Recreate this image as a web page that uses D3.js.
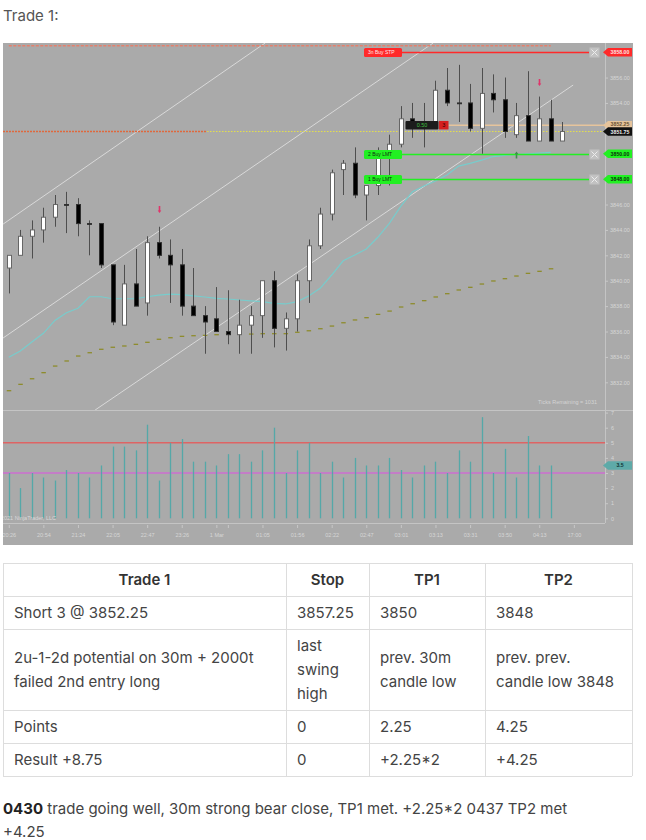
<!DOCTYPE html>
<html>
<head>
<meta charset="utf-8">
<script src="https://cdn.jsdelivr.net/npm/d3@7"></script>
<style>
body{margin:0;background:#fff;}
svg{display:block;font-family:Inter,"Noto Sans",sans-serif;}
</style>
</head>
<body>
<svg id="page" width="646" height="840"></svg>
<script>

// ---- candles (one per 2000 tick bar) ----
var opens  = [3841,3842,3843.5,3844,3845,3846,3846,3844.5,3844.5,3841.25,3836.5,3839.75,3838.25,3843,3842,3841.25,3838,3837.25,3837,3836,3835.75,3836.5,3837.25,3840,3836.25,3837,3840,3842.75,3845.25,3848.75,3849.25,3846.75,3847.5,3849.75,3850.75,3852.75,3852.5,3852.5,3855,3854,3854,3852,3854.75,3854.25,3851.5,3853,3851,3852.75,3851]
var highs  = [3842,3844,3844.75,3845.75,3846.75,3847,3846.5,3844.75,3844.5,3841.25,3841.25,3842.5,3843.5,3844.25,3843.25,3842.5,3841,3838,3839.5,3839.25,3838.5,3838,3840,3840.75,3837.5,3840.5,3843.25,3845.75,3848.75,3849.5,3850.5,3847.5,3850.5,3851.5,3853.75,3854,3854,3855.75,3856.75,3857,3855.5,3856.75,3856.25,3856,3854,3856.5,3854.5,3854.25,3852.5]
var lows   = [3839,3842,3841.75,3843,3844.25,3843.75,3843.5,3842,3841,3836.5,3836.5,3838,3837.25,3841.75,3838.25,3837.25,3837.25,3834.25,3836,3835,3834.25,3834.25,3835.5,3834.75,3834.5,3836,3838.25,3842.5,3844.75,3846.75,3846.5,3844.75,3846.75,3847.5,3850.5,3851.25,3850.5,3852.25,3853.75,3852.5,3851.75,3850,3853.25,3851.25,3851.25,3851,3851,3851,3851]
var closes = [3842,3843.5,3844,3845,3846,3846,3844.5,3844.5,3841.25,3836.75,3839.75,3838,3843,3842,3841.25,3838,3837.25,3836.75,3836,3835.75,3836.5,3837.25,3840,3836.25,3837,3840,3842.75,3845.25,3848.5,3849.25,3846.75,3847.5,3849.75,3850.75,3852.75,3852.5,3852.25,3855,3854,3854,3852,3854.75,3854.25,3851.75,3853,3851,3852.75,3851,3851.75]

// ---- indicators ----
var fastMA = [3833.97,3834.46,3835.17,3835.86,3836.87,3837.48,3837.83,3838.74,3838.74,3838.58,3838.58,3838.58,3838.74,3838.87,3838.95,3838.9,3838.8,3838.72,3838.61,3838.56,3838.48,3838.42,3838.35,3838.22,3838.17,3838.35,3838.8,3839.4,3840.45,3841.57,3842.02,3842.5,3843.42,3844.52,3845.88,3847,3847.46,3847.85,3848.32,3849.03,3849.24,3849.5,3849.78,3849.87,3849.94,3850,3850.05,3850.1]
var slowMA = [3831.34,3831.84,3832.28,3832.76,3833.28,3833.68,3834.07,3834.33,3834.6,3834.76,3834.86,3834.99,3835.15,3835.39,3835.51,3835.62,3835.67,3835.7,3835.75,3835.83,3835.78,3835.8,3835.83,3835.83,3835.83,3835.94,3836.06,3836.22,3836.43,3836.69,3836.91,3837.09,3837.35,3837.61,3837.93,3838.19,3838.43,3838.72,3838.98,3839.27,3839.48,3839.74,3839.98,3840.16,3840.37,3840.58,3840.74,3840.94]
var volumes = [3,2,3,2.7,2.5,3.2,3,2.7,3.5,4.75,4.75,4.5,6.2,2.5,5,5.25,3.75,3.75,3.5,4.25,4.25,3.75,4.5,6,3,4.5,5,3,3.75,2.7,4,3.5,3.5,4,3.2,2.7,3.5,3.75,3,4.5,3.75,6.7,3,4.6,2.7,5.45,3.5,3.5]
var volHigh = 5, volLow = 3, volLast = 3.5

// ---- drawings on the chart ----
var chanFromIdx = [-0.49, -0.49, 7.49]
var chanFromPx  = [3844.46, 3835.49, 3829.82]
var chanToIdx   = [22.23, 36.8, 48.94]
var chanToPx    = [3858.72, 3858.72, 3855.41]

var levelPx      = [3858.5, 3851.75]
var levelFromIdx = [0, -0.5]
var levelToIdx   = [47, 17.2]

var downArrowIdx = [13, 46]
var downArrowPx  = [3845.6, 3855.6]
var upArrowIdx   = [44]
var upArrowPx    = [3849.9]

// ---- orders / position ----
var orderNames  = ["3n Buy STP", "2 Buy LMT", "1 Buy LMT"]
var orderPrices = [3858, 3850, 3848]
var orderKinds  = ["stop", "limit", "limit"]
var entryPrice = 3852.25, lastPrice = 3851.75
var posPnl = "0.50", posQty = "3"

// ---- axes ----
var priceTicks = d3.range(3832, 3859, 2)
var volTicks = d3.range(0, 8)
var timeIdx = [0,3,6,9,12,15,18,19,22,25,28,31,34,37,40,43,46,49]
var timeLbl = ["20:26","20:54","21:24","22:05","22:47","23:26","1 Mar","","01:05","01:56","02:22","02:47","03:01","03:13","03:31","03:50","04:13","17:00"]

// ---- table ----
var tableHead = ["Trade 1", "Stop", "TP1", "TP2"]
var tableRows = [
  [["Short 3 @ 3852.25"], ["3857.25"], ["3850"], ["3848"]],
  [["2u-1-2d potential on 30m + 2000t", "failed 2nd entry long"], ["last", "swing", "high"], ["prev. 30m", "candle low"], ["prev. prev.", "candle low 3848"]],
  [["Points"], ["0"], ["2.25"], ["4.25"]],
  [["Result +8.75"], ["0"], ["+2.25*2"], ["+4.25"]]
]


var svg = d3.select("#page")
var cL = 3, cR = 633, cT = 43, cB = 545, axX = 605
var pBot = 410, vBot = 523

var x  = d3.scaleLinear().domain([-0.5, 51.7]).range([cL, axX])
var y  = d3.scaleLinear().domain([3829.82, 3858.72]).range([pBot, cT])
var yv = d3.scaleLinear().domain([0, 7]).range([518.3, 412.6])
var smallFont = "'Liberation Sans',Arial,sans-serif"

svg.append("text").attr("x", 3).attr("y", 21).attr("font-size", 15).attr("fill", "#555").text("Trade 1:")

var defs = svg.append("defs")
defs.append("clipPath").attr("id", "clipP").append("rect")
  .attr("x", cL).attr("y", cT).attr("width", axX - cL).attr("height", pBot - cT)
defs.append("clipPath").attr("id", "clipV").append("rect")
  .attr("x", cL).attr("y", pBot).attr("width", axX - cL).attr("height", vBot - pBot)
defs.append("clipPath").attr("id", "clipAll").append("rect")
  .attr("x", cL).attr("y", cT).attr("width", cR - cL).attr("height", cB - cT)

var chart = svg.append("g").attr("clip-path", "url(#clipAll)")
chart.append("rect").attr("x", cL).attr("y", cT).attr("width", cR - cL).attr("height", cB - cT).attr("fill", "#aaaaaa")

// panel frame
chart.append("line").attr("x1", cL).attr("x2", cR).attr("y1", pBot + 0.5).attr("y2", pBot + 0.5).attr("stroke", "#c4c4c4")
chart.append("line").attr("x1", cL).attr("x2", axX).attr("y1", vBot + 0.5).attr("y2", vBot + 0.5).attr("stroke", "#c4c4c4")
chart.append("line").attr("x1", axX + 0.5).attr("x2", axX + 0.5).attr("y1", cT).attr("y2", vBot).attr("stroke", "#c4c4c4")

var gp = chart.append("g").attr("clip-path", "url(#clipP)")
var gv = chart.append("g").attr("clip-path", "url(#clipV)")

// channel lines
gp.selectAll(".chan").data(chanFromIdx).enter().append("line")
  .attr("x1", function(d){ return x(d) })
  .attr("y1", function(d, i){ return y(chanFromPx[i]) })
  .attr("x2", function(d, i){ return x(chanToIdx[i]) })
  .attr("y2", function(d, i){ return y(chanToPx[i]) })
  .attr("stroke", "#dedede").attr("stroke-width", 0.9)

// horizontal levels
gp.append("line").attr("x1", x(-0.5)).attr("x2", axX).attr("y1", y(lastPrice)).attr("y2", y(lastPrice))
  .attr("stroke", "#e4e04a").attr("stroke-width", 1).attr("stroke-dasharray", "1.5,1.5")
gp.selectAll(".lvl").data(levelPx).enter().append("line")
  .attr("x1", function(d, i){ return x(levelFromIdx[i]) })
  .attr("x2", function(d, i){ return x(levelToIdx[i]) })
  .attr("y1", function(d){ return y(d) }).attr("y2", function(d){ return y(d) })
  .attr("stroke", function(d, i){ return i == 0 ? "#e4806c" : "#e0683c" })
  .attr("stroke-width", 1.5)
  .attr("stroke-dasharray", function(d, i){ return i == 0 ? "3,1.5" : "2,1" })

// entry line
gp.append("line").attr("x1", x(34.4) + 43).attr("x2", axX).attr("y1", y(entryPrice)).attr("y2", y(entryPrice))
  .attr("stroke", "#e6c49c").attr("stroke-width", 1.5)

// slow MA (dashes)
gp.selectAll(".slow").data(slowMA).enter().append("line")
  .attr("x1", function(d, i){ return x(i) - 2 }).attr("x2", function(d, i){ return x(i) + 2.5 })
  .attr("y1", function(d){ return y(d) }).attr("y2", function(d){ return y(d) })
  .attr("stroke", "#8e8c2c").attr("stroke-width", 1.3)

// fast MA
var maLine = d3.line().x(function(d, i){ return x(i) }).y(function(d){ return y(d) })
gp.append("path").attr("d", maLine(fastMA)).attr("fill", "none").attr("stroke", "#78cccc").attr("stroke-width", 1.2)

// orders (lines behind candles)
var orderFill = { stop: "#ff2a2a", limit: "#22f022" }
var orderText = { stop: "#ffe8e8", limit: "#103010" }
orderNames.forEach(function(name, i){
  var yc = Math.round(y(orderPrices[i])) + 0.5
  gp.append("line").attr("x1", 402).attr("x2", 589).attr("y1", yc).attr("y2", yc)
    .attr("stroke", orderFill[orderKinds[i]]).attr("stroke-width", 1.4)
})

// candles
var cg = gp.selectAll(".candle").data(opens).enter().append("g")
cg.append("line")
  .attr("x1", function(d, i){ return Math.round(x(i)) + 0.5 })
  .attr("x2", function(d, i){ return Math.round(x(i)) + 0.5 })
  .attr("y1", function(d, i){ return y(highs[i]) })
  .attr("y2", function(d, i){ return y(lows[i]) })
  .attr("stroke", "#4e4e4e")
cg.append("rect")
  .attr("x", function(d, i){ return Math.round(x(i)) - 1.5 })
  .attr("width", 4)
  .attr("y", function(d, i){ return y(Math.max(d, closes[i])) })
  .attr("height", function(d, i){ return Math.max(0.8, Math.abs(y(d) - y(closes[i]))) })
  .attr("fill", function(d, i){ return closes[i] > d ? "#ffffff" : "#000000" })
  .attr("stroke", function(d, i){ return closes[i] > d ? "#666" : "#303030" })
  .attr("stroke-width", 1)

// signal arrows
function arrow(g, cx, cy, down, col){
  var s = down ? 1 : -1
  g.append("path")
    .attr("d", "M" + (cx - 0.8) + "," + (cy - 3.5 * s) + "V" + (cy + 1 * s) + "H" + (cx - 1.8) + "L" + cx + "," + (cy + 3.5 * s) +
      "L" + (cx + 1.8) + "," + (cy + 1 * s) + "H" + (cx + 0.8) + "V" + (cy - 3.5 * s) + "Z")
    .attr("fill", col)
}
downArrowIdx.forEach(function(d, i){ arrow(gp, Math.round(x(d)) + 0.5, y(downArrowPx[i]), true, "#e0346a") })
upArrowIdx.forEach(function(d, i){ arrow(gp, Math.round(x(d)) + 0.5, y(upArrowPx[i]), false, "#3f8f4a") })

// order labels and close boxes
orderNames.forEach(function(name, i){
  var yc = Math.round(y(orderPrices[i])) + 0.5
  var k = orderKinds[i]
  gp.append("rect").attr("x", 364).attr("y", yc - 4.5).attr("width", 38).attr("height", 9).attr("rx", 1.5).attr("fill", orderFill[k])
  gp.append("text").attr("x", 368).attr("y", yc).attr("dy", "0.35em").attr("font-family", smallFont)
    .attr("font-size", 5).attr("fill", orderText[k]).text(name)
  gp.append("rect").attr("x", 589.5).attr("y", yc - 5).attr("width", 10).attr("height", 10).attr("fill", "#c2c2c2")
  gp.append("path").attr("d", "M591.5," + (yc - 3) + "L597.5," + (yc + 3) + "M597.5," + (yc - 3) + "L591.5," + (yc + 3))
    .attr("stroke", "#ececec").attr("stroke-width", 1)
})

// position widget
var ye = y(entryPrice)
gp.append("rect").attr("x", x(34.4)).attr("y", ye - 4.2).attr("width", 33).attr("height", 8.5).attr("rx", 1).attr("fill", "#1c1c1c")
gp.append("text").attr("x", x(34.4) + 16.5).attr("y", ye).attr("dy", "0.35em").attr("text-anchor", "middle")
  .attr("font-family", smallFont).attr("font-size", 5.5).attr("fill", "#3fbf3f").text(posPnl)
gp.append("rect").attr("x", x(34.4) + 33.5).attr("y", ye - 4.2).attr("width", 9.5).attr("height", 8.5).attr("fill", "#d42020")
gp.append("text").attr("x", x(34.4) + 38.2).attr("y", ye).attr("dy", "0.35em").attr("text-anchor", "middle")
  .attr("font-family", smallFont).attr("font-size", 5.5).attr("fill", "#2a0000").text(posQty)

gp.append("text").attr("x", 597).attr("y", 404).attr("text-anchor", "end").attr("font-family", smallFont)
  .attr("font-size", 5.5).attr("fill", "#d4d4d4").text("Ticks Remaining = 1031")

// volume panel
gv.append("line").attr("x1", cL).attr("x2", axX).attr("y1", yv(volHigh)).attr("y2", yv(volHigh)).attr("stroke", "#de6464").attr("stroke-width", 1.5)
gv.append("line").attr("x1", cL).attr("x2", axX).attr("y1", yv(volLow)).attr("y2", yv(volLow)).attr("stroke", "#cc6ed0").attr("stroke-width", 1.5)
gv.selectAll(".vol").data(volumes).enter().append("line")
  .attr("x1", function(d, i){ return Math.round(x(i)) + 0.5 })
  .attr("x2", function(d, i){ return Math.round(x(i)) + 0.5 })
  .attr("y1", yv(0)).attr("y2", function(d){ return yv(d) })
  .attr("stroke", "#55a8a8").attr("stroke-width", 1.3)
gv.append("text").attr("x", 56).attr("y", 518.5).attr("dy", "0.35em").attr("text-anchor", "end").attr("font-family", smallFont)
  .attr("font-size", 5.5).attr("fill", "#d8d8d8").text("©2021 NinjaTrader, LLC")

// axes
function styleAxis(g){
  g.attr("font-family", smallFont).attr("font-size", 5.5)
  g.select(".domain").remove()
  g.selectAll("line").attr("stroke", "#c8c8c8")
  g.selectAll("text").attr("fill", "#d6d6d6")
}
chart.append("g").attr("transform", "translate(" + axX + ",0)")
  .call(d3.axisRight(y).tickValues(priceTicks).tickFormat(d3.format(".2f")).tickSize(3).tickPadding(2))
  .call(styleAxis)
chart.append("g").attr("transform", "translate(" + axX + ",0)")
  .call(d3.axisRight(yv).tickValues(volTicks).tickFormat(d3.format("d")).tickSize(3).tickPadding(3))
  .call(styleAxis)
chart.append("g").attr("transform", "translate(0," + (vBot + 2) + ")")
  .call(d3.axisBottom(x).tickValues(timeIdx).tickFormat(function(d, i){ return timeLbl[i] }).tickSize(3).tickPadding(5))
  .call(styleAxis)

// price tags on the right
function tag(yc, txt, fill, col, shift){
  var h = 8.5
  chart.append("path")
    .attr("d", "M" + (axX - 2) + "," + yc + "L" + (axX + 3) + "," + (yc - h / 2) + "H" + (cR - 1) + "V" + (yc + h / 2) + "H" + (axX + 3) + "Z")
    .attr("fill", fill)
  chart.append("text").attr("x", (axX + cR) / 2 + 1).attr("y", yc + (shift || 0)).attr("dy", "0.35em").attr("text-anchor", "middle")
    .attr("font-family", smallFont).attr("font-size", 5.2).attr("font-weight", "bold").attr("fill", col).text(txt)
}
orderPrices.forEach(function(p, i){ tag(y(p), d3.format(".2f")(p), orderFill[orderKinds[i]], orderKinds[i] == "stop" ? "#ffe0e0" : "#0c300c") })
tag(y(entryPrice), d3.format(".2f")(entryPrice), "#e6c49c", "#6a5030", -1.2)
tag(y(lastPrice), d3.format(".2f")(lastPrice), "#111111", "#f0f0f0", 0.4)
tag(yv(volLast), d3.format(".1f")(volLast), "#5eaaa8", "#103434")

// ---- table ----
var colX = [3, 286, 369, 485, 632]
var rowY = [563, 596, 629, 710, 743, 776]
var lineH = 24
var tb = svg.append("g")
rowY.forEach(function(ry){
  tb.append("line").attr("x1", colX[0]).attr("x2", colX[4]).attr("y1", ry + 0.5).attr("y2", ry + 0.5).attr("stroke", "#dddddd")
})
colX.forEach(function(cx){
  tb.append("line").attr("x1", cx + 0.5).attr("x2", cx + 0.5).attr("y1", rowY[0]).attr("y2", rowY[5]).attr("stroke", "#dddddd")
})
tableHead.forEach(function(h, j){
  tb.append("text").attr("x", (colX[j] + colX[j + 1]) / 2).attr("y", (rowY[0] + rowY[1]) / 2).attr("dy", "0.36em")
    .attr("text-anchor", "middle").attr("font-size", 15).attr("font-weight", 600).attr("fill", "#333").text(h)
})
tableRows.forEach(function(row, r){
  var cy = (rowY[r + 1] + rowY[r + 2]) / 2
  row.forEach(function(lines, j){
    var t = tb.append("text").attr("font-size", 15).attr("fill", "#444")
    lines.forEach(function(s, k){
      t.append("tspan").attr("x", colX[j] + 11).attr("y", cy + (k - (lines.length - 1) / 2) * lineH).attr("dy", "0.36em").text(s)
    })
  })
})

var note = svg.append("text").attr("x", 3).attr("y", 809).attr("dy", "0.36em").attr("font-size", 15).attr("fill", "#444")
note.append("tspan").attr("font-weight", 700).attr("fill", "#222").text("0430")
note.append("tspan").text(" trade going well, 30m strong bear close, TP1 met. +2.25*2 0437 TP2 met")
svg.append("text").attr("x", 3).attr("y", 832).attr("dy", "0.36em").attr("font-size", 15).attr("fill", "#444").text("+4.25")

</script>
</body>
</html>
